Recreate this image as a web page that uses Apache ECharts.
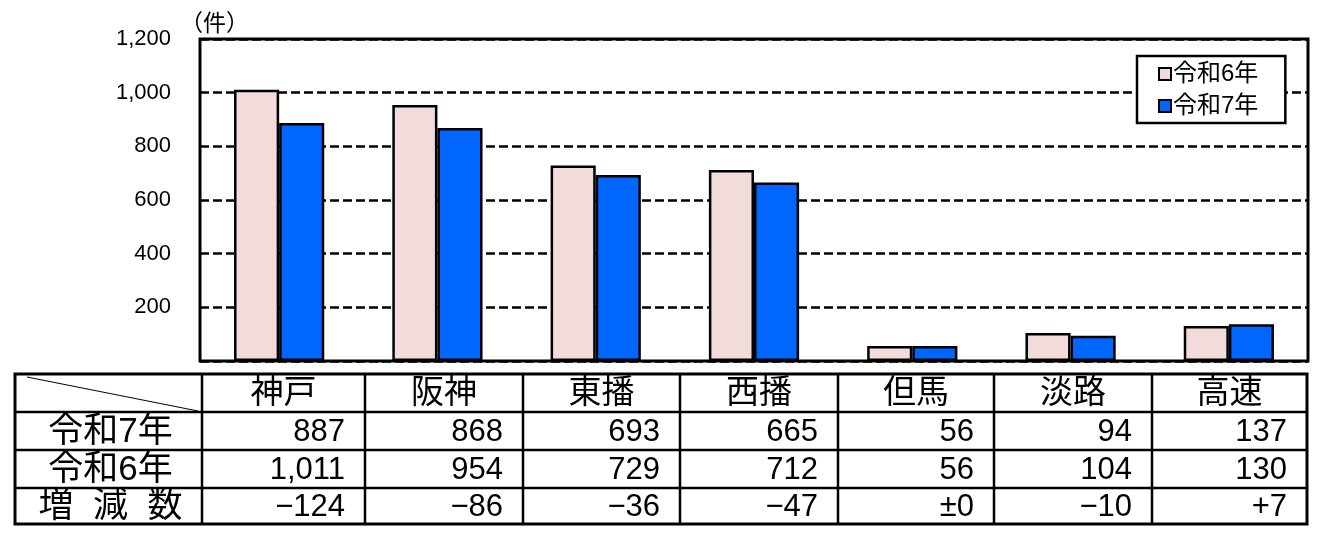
<!DOCTYPE html>
<html>
<head>
<meta charset="utf-8">
<script src="https://cdn.jsdelivr.net/npm/echarts@6/dist/echarts.min.js"></script>
<style>
  html, body { margin: 0; padding: 0; background: #fff; }
  #main { width: 1333px; height: 548px; }
</style>
</head>
<body>
<div id="main"></div>
<script>
// 地域ごとの件数
var areas = ['神戸', '阪神', '東播', '西播', '但馬', '淡路', '高速'];
var r6 = [1011, 954, 729, 712, 56, 104, 130];
var r7 = [887, 868, 693, 665, 56, 94, 137];
var diffText = ['−124', '−86', '−36', '−47', '±0', '−10', '+7'];
var rowNames = ['令和7年', '令和6年', '増  減  数'];

var FONT = '"Liberation Sans", "Noto Sans CJK JP", sans-serif';

// グラフ領域
var gLeft = 200, gTop = 39, gRight = 1308, gBottom = 361;
// 表の罫線位置
var tLeft = 15;
var colX = [202, 365, 523, 680, 838, 994, 1152, 1307];
var rowY = [374, 412, 450, 488, 524];

function fmt(n) {
  return n.toLocaleString('en-US');
}

// 表を graphic で組み立てる
function buildTable() {
  var els = [];
  var lineStyle = { stroke: '#000', lineWidth: 2.5 };
  var right = colX[colX.length - 1];
  // 外枠
  els.push({
    type: 'rect',
    shape: { x: tLeft, y: rowY[0], width: right - tLeft, height: rowY[4] - rowY[0] },
    style: { fill: '#fff', stroke: '#000', lineWidth: 3 }
  });
  // 横線
  for (var i = 1; i < rowY.length - 1; i++) {
    els.push({ type: 'line', shape: { x1: tLeft, y1: rowY[i], x2: right, y2: rowY[i] }, style: lineStyle });
  }
  // 縦線
  for (var j = 0; j < colX.length - 1; j++) {
    els.push({ type: 'line', shape: { x1: colX[j], y1: rowY[0], x2: colX[j], y2: rowY[4] }, style: lineStyle });
  }
  // 斜線
  els.push({
    type: 'line',
    shape: { x1: tLeft + 12, y1: rowY[0] + 3, x2: colX[0] - 4, y2: rowY[1] - 1 },
    style: { stroke: '#000', lineWidth: 1 }
  });
  // 見出し
  areas.forEach(function (a, k) {
    els.push({
      type: 'text',
      style: {
        text: a, x: (colX[k] + colX[k + 1]) / 2, y: (rowY[0] + rowY[1]) / 2 + 1,
        align: 'center', verticalAlign: 'middle', font: '33px ' + FONT, fill: '#000'
      }
    });
  });
  // 行ラベル
  rowNames.forEach(function (n, r) {
    els.push({
      type: 'text',
      style: {
        text: n, x: (tLeft + colX[0]) / 2 + 2, y: (rowY[r + 1] + rowY[r + 2]) / 2 + 1,
        align: 'center', verticalAlign: 'middle', font: '35px ' + FONT, fill: '#000'
      }
    });
  });
  // 数値
  var rows = [r7.map(fmt), r6.map(fmt), diffText];
  rows.forEach(function (vals, r) {
    vals.forEach(function (v, k) {
      els.push({
        type: 'text',
        style: {
          text: v, x: colX[k + 1] - 20, y: (rowY[r + 1] + rowY[r + 2]) / 2 + 1,
          align: 'right', verticalAlign: 'middle', font: '31px ' + FONT, fill: '#000'
        }
      });
    });
  });
  return els;
}

var chart = echarts.init(document.getElementById('main'));
chart.setOption({
  animation: false,
  backgroundColor: '#fff',
  textStyle: { fontFamily: FONT },
  title: {
    text: '（件）',
    left: 175, top: 8,
    textStyle: { fontSize: 23, fontWeight: 'normal', color: '#000', fontFamily: FONT }
  },
  legend: {
    orient: 'vertical',
    left: 1137, top: 56,
    backgroundColor: '#fff',
    borderColor: '#000',
    borderWidth: 2.5,
    padding: [6, 27, 5, 21],
    itemGap: 8,
    itemWidth: 12, itemHeight: 12,
    icon: 'rect',
    itemStyle: { borderColor: '#000', borderWidth: 2 },
    textStyle: { fontSize: 24, color: '#000', fontFamily: FONT, padding: [0, 0, 0, -3] },
    data: ['令和6年', '令和7年']
  },
  grid: {
    left: gLeft, top: gTop, right: 1333 - gRight, bottom: 548 - gBottom,
    show: true, borderColor: '#000', borderWidth: 3, containLabel: false
  },
  xAxis: {
    type: 'category',
    data: areas,
    axisLine: { show: false },
    axisTick: { show: false },
    axisLabel: { show: false }
  },
  yAxis: {
    type: 'value',
    min: 0, max: 1200, interval: 200,
    axisLine: { show: false },
    axisTick: { show: false },
    axisLabel: {
      margin: 29,
      fontSize: 22, color: '#000', fontFamily: FONT,
      formatter: function (v) { return v === 0 ? '' : fmt(v); }
    },
    splitLine: {
      lineStyle: { color: '#000', width: 2.5, type: [9, 4] }
    }
  },
  series: [
    {
      name: '令和6年', type: 'bar', data: r6,
      barGap: 0, barCategoryGap: '43%',
      itemStyle: { color: '#F2DCDB', borderColor: '#000', borderWidth: 2.5 }
    },
    {
      name: '令和7年', type: 'bar', data: r7,
      itemStyle: { color: '#0066FF', borderColor: '#000', borderWidth: 2.5 }
    }
  ],
  graphic: buildTable()
});
</script>
</body>
</html>
